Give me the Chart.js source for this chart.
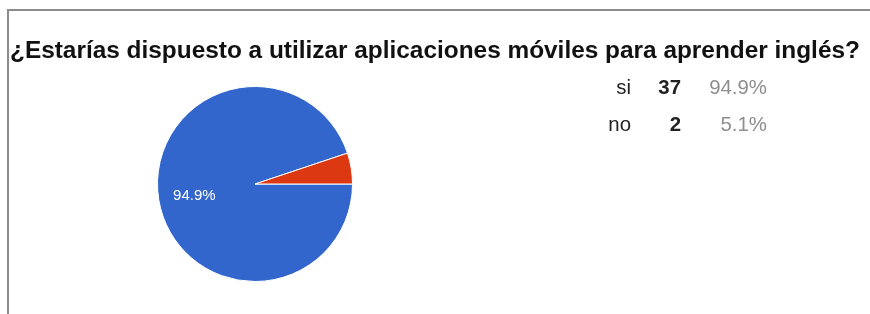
<!DOCTYPE html>
<html>
<head>
<meta charset="utf-8">
<script src="https://cdn.jsdelivr.net/npm/chart.js@4/dist/chart.umd.min.js"></script>
<style>
  body { margin: 0; background: #fff; }
  #wrap { position: relative; width: 870px; height: 314px; }
  #frame { position: absolute; left: 7px; top: 9px; right: 0; bottom: 0;
           border-left: 2px solid #8c8c8c; border-top: 2px solid #8c8c8c; }
  canvas { position: absolute; left: 0; top: 0; }
</style>
</head>
<body>
<div id="wrap">
  <div id="frame"></div>
  <canvas id="pie" width="870" height="314"></canvas>
</div>
<script>
const title = '¿Estarías dispuesto a utilizar aplicaciones móviles para aprender inglés?';
const labels = ['si', 'no'];
const counts = [37, 2];
const percents = ['94.9%', '5.1%'];
const colors = ['#3366cc', '#dc3912'];

// title, table on the right, and the label inside the big slice
const textPlugin = {
    id: 'texts',
    afterDraw(chart) {
        const ctx = chart.ctx;
        ctx.save();
        ctx.fillStyle = '#111';
        ctx.font = 'bold 24.4px Arial';
        ctx.textAlign = 'left';
        ctx.textBaseline = 'alphabetic';
        ctx.fillText(title, 10, 58);

        labels.forEach((lab, i) => {
            const y = 94 + i * 37;
            ctx.textAlign = 'right';
            ctx.fillStyle = '#222';
            ctx.font = '20.4px Arial';
            ctx.fillText(lab, 631, y);
            ctx.font = 'bold 20.4px Arial';
            ctx.fillText(String(counts[i]), 681, y);
            ctx.fillStyle = '#8f8f8f';
            ctx.font = '20.4px Arial';
            ctx.fillText(percents[i], 767, y);
        });

        // percentage inside the slice
        const arc = chart.getDatasetMeta(0).data[0];
        const mid = (arc.startAngle + arc.endAngle) / 2;
        const r = arc.outerRadius * 0.63;
        ctx.fillStyle = '#fff';
        ctx.font = '15px Arial';
        ctx.textAlign = 'center';
        ctx.textBaseline = 'middle';
        ctx.fillText(percents[0], arc.x + Math.cos(mid) * r, arc.y + Math.sin(mid) * r + 2);
        ctx.restore();
    }
};

new Chart(document.getElementById('pie'), {
    type: 'pie',
    data: {
        labels: labels,
        datasets: [{
            data: counts,
            backgroundColor: colors,
            borderColor: '#fff',
            borderWidth: 1
        }]
    },
    options: {
        responsive: false,
        animation: false,
        rotation: 90,
        layout: { padding: { left: 157, right: 517, top: 86, bottom: 32 } },
        plugins: {
            legend: { display: false },
            tooltip: { enabled: false },
            title: { display: false }
        }
    },
    plugins: [textPlugin]
});
</script>
</body>
</html>
